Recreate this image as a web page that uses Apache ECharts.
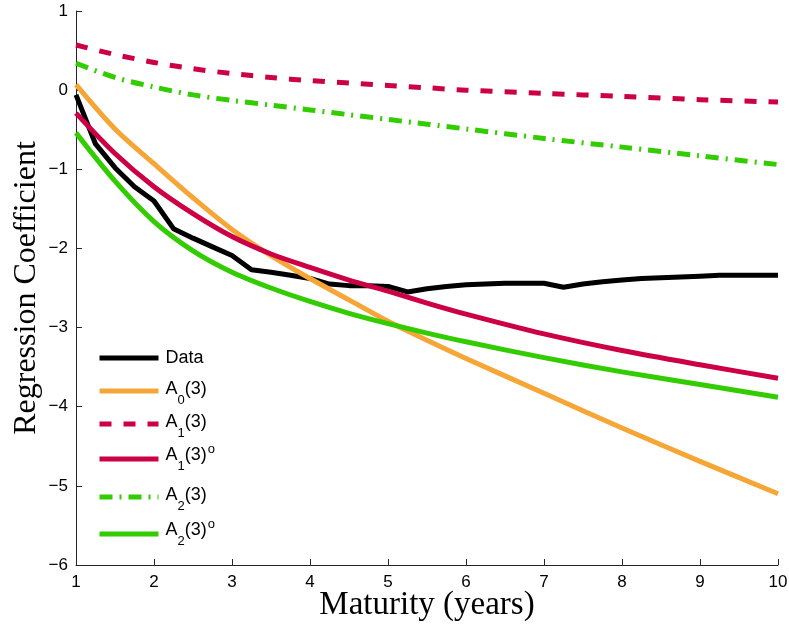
<!DOCTYPE html>
<html>
<head>
<meta charset="utf-8">
<script src="https://cdn.jsdelivr.net/npm/echarts@6/dist/echarts.min.js"></script>
<style>
  html, body { margin: 0; padding: 0; background: #fff; }
  #chart { width: 789px; height: 627px; }
</style>
</head>
<body>
<div id="chart"></div>
<script>
// Observed regression coefficients, sampled every quarter year
const dataMaturity = [1, 1.25, 1.5, 1.75, 2, 2.25, 2.5, 2.75, 3, 3.25, 3.5, 3.75, 4, 4.25, 4.5, 4.75, 5,
  5.25, 5.5, 5.75, 6, 6.25, 6.5, 6.75, 7, 7.25, 7.5, 7.75, 8, 8.25, 8.5, 8.75, 9, 9.25, 9.5, 9.75, 10];
const dataCoef = [-0.06, -0.68, -0.98, -1.22, -1.40, -1.75, -1.87, -1.98, -2.09, -2.27, -2.30, -2.34, -2.38,
  -2.45, -2.47, -2.47, -2.48, -2.55, -2.51, -2.48, -2.46, -2.45, -2.44, -2.44, -2.44, -2.49, -2.45, -2.42,
  -2.40, -2.38, -2.37, -2.36, -2.35, -2.34, -2.34, -2.34, -2.34];

// Model-implied coefficients
const modelMaturity = [1, 1.5, 2, 2.5, 3, 3.5, 4, 4.5, 5, 5.5, 6, 7, 8, 9, 10];
const a0Coef   = [0.07, -0.49, -0.93, -1.36, -1.76, -2.09, -2.38, -2.65, -2.92, -3.16, -3.39, -3.83, -4.27, -4.69, -5.10];
const a1Coef   = [0.57, 0.45, 0.35, 0.27, 0.21, 0.16, 0.12, 0.09, 0.06, 0.03, 0.00, -0.04, -0.08, -0.12, -0.15];
const a1oCoef  = [-0.29, -0.80, -1.22, -1.56, -1.85, -2.07, -2.24, -2.40, -2.54, -2.69, -2.83, -3.08, -3.29, -3.47, -3.64];
const a2Coef   = [0.34, 0.16, 0.04, -0.06, -0.13, -0.19, -0.25, -0.31, -0.37, -0.43, -0.49, -0.61, -0.72, -0.83, -0.94];
const a2oCoef  = [-0.54, -1.15, -1.66, -2.03, -2.30, -2.50, -2.67, -2.82, -2.95, -3.07, -3.18, -3.38, -3.56, -3.72, -3.88];

const xTicks = [1, 10, 1];   // min, max, step
const yTicks = [-6, 1, 1];

const seriesNames = ['Data', 'A0(3)', 'A1(3)', 'A1(3)o', 'A2(3)', 'A2(3)o'];

const BLACK = '#000000', ORANGE = '#F5A636', CRIMSON = '#CC0044', GREEN = '#33CC00';

function pairs(xs, ys) { return xs.map((x, i) => [x, ys[i]]); }

const sans = 'Liberation Sans, Arial, Helvetica, sans-serif';
const serif = 'Liberation Serif, Times New Roman, serif';

// rich text for subscripts / superscripts in the legend
const rich = {
  d:  { fontSize: 18, fontFamily: sans, color: '#000', lineHeight: 18 },
  m:  { fontSize: 18, fontFamily: sans, color: '#000', lineHeight: 16, padding: [2, 0, 12, 0], verticalAlign: 'top' },
  s:  { fontSize: 13, fontFamily: sans, color: '#000', lineHeight: 13, padding: [15.5, 0, 0, 0], verticalAlign: 'top' },
  m2: { fontSize: 18, fontFamily: sans, color: '#000', lineHeight: 16, padding: [3, 0, 19, 0], verticalAlign: 'top' },
  s2: { fontSize: 13, fontFamily: sans, color: '#000', lineHeight: 13, padding: [16.5, 0, 0, 0], verticalAlign: 'top' },
  u:  { fontSize: 13, fontFamily: sans, color: '#000', lineHeight: 4, padding: [0, 0, 0, 1], verticalAlign: 'top' }
};
const legendText = {
  'Data':   '{d|Data}',
  'A0(3)':  '{m|A}{s|0}{m|(3)}',
  'A1(3)':  '{m|A}{s|1}{m|(3)}',
  'A1(3)o': '{m2|A}{s2|1}{m2|(3)}{u|o}',
  'A2(3)':  '{m|A}{s|2}{m|(3)}',
  'A2(3)o': '{m2|A}{s2|2}{m2|(3)}{u|o}'
};
const legendTop = { 'Data': 349, 'A0(3)': 378, 'A1(3)': 411, 'A1(3)o': 443, 'A2(3)': 484, 'A2(3)o': 518 };
const legendTextPad = { 'Data': [0, 0, 0, 2], 'A0(3)': [0, 0, 10, 2], 'A1(3)': [0, 0, 10, 2],
  'A1(3)o': [0, 0, 16, 2], 'A2(3)': [0, 0, 10, 2], 'A2(3)o': [0, 0, 16, 2] };

const legends = seriesNames.map(name => ({
  data: [name],
  left: 97,
  top: legendTop[name],
  padding: 0,
  itemWidth: 59,
  itemHeight: 14,
  itemGap: 0,
  selectedMode: false,
  itemStyle: { opacity: 0 },
  lineStyle: { width: 'inherit', opacity: 1 },
  formatter: n => legendText[n],
  textStyle: { rich: rich, padding: legendTextPad[name] }
}));

function lineSeries(name, data, color, type, smooth) {
  return {
    name: name,
    type: 'line',
    data: data,
    symbol: 'none',
    smooth: smooth,
    silent: true,
    lineStyle: { color: color, width: 5, type: type, cap: 'butt', join: 'round' },
    itemStyle: { color: color }
  };
}

const chart = echarts.init(document.getElementById('chart'), null, { renderer: 'canvas' });
chart.setOption({
  animation: false,
  backgroundColor: '#ffffff',
  grid: { left: 76, right: 11, top: 11, bottom: 62, containLabel: false, outerBoundsMode: 'none' },
  legend: legends,
  xAxis: {
    type: 'value',
    min: xTicks[0], max: xTicks[1], interval: xTicks[2],
    name: 'Maturity (years)',
    nameLocation: 'middle',
    nameGap: 24,
    nameMoveOverlap: false,
    nameTextStyle: { fontFamily: serif, fontSize: 33, color: '#000' },
    axisLine: { show: true, onZero: false, lineStyle: { color: '#262626', width: 1 } },
    axisTick: { show: true, inside: true, length: 6, lineStyle: { color: '#262626' } },
    axisLabel: { fontFamily: sans, fontSize: 17, color: '#000', margin: 9 },
    splitLine: { show: false }
  },
  yAxis: {
    type: 'value',
    min: yTicks[0], max: yTicks[1], interval: yTicks[2],
    name: 'Regression Coefficient',
    nameLocation: 'middle',
    nameGap: 33,
    nameMoveOverlap: false,
    nameRotate: 90,
    nameTextStyle: { fontFamily: serif, fontSize: 32, color: '#000' },
    axisLine: { show: true, onZero: false, lineStyle: { color: '#262626', width: 1 } },
    axisTick: { show: true, inside: true, length: 6, lineStyle: { color: '#262626' } },
    axisLabel: {
      fontFamily: sans, fontSize: 17, color: '#000', margin: 8,
      formatter: v => (v < 0 ? '\u2212' + (-v) : String(v))
    },
    splitLine: { show: false }
  },
  series: [
    lineSeries('Data', pairs(dataMaturity, dataCoef), BLACK, 'solid', false),
    lineSeries('A0(3)', pairs(modelMaturity, a0Coef), ORANGE, 'solid', 0.3),
    lineSeries('A1(3)', pairs(modelMaturity, a1Coef), CRIMSON, [12, 12], 0.3),
    lineSeries('A1(3)o', pairs(modelMaturity, a1oCoef), CRIMSON, 'solid', 0.3),
    lineSeries('A2(3)', pairs(modelMaturity, a2Coef), GREEN, [13, 7, 2, 7], 0.3),
    lineSeries('A2(3)o', pairs(modelMaturity, a2oCoef), GREEN, 'solid', 0.3)
  ]
});
</script>
</body>
</html>
